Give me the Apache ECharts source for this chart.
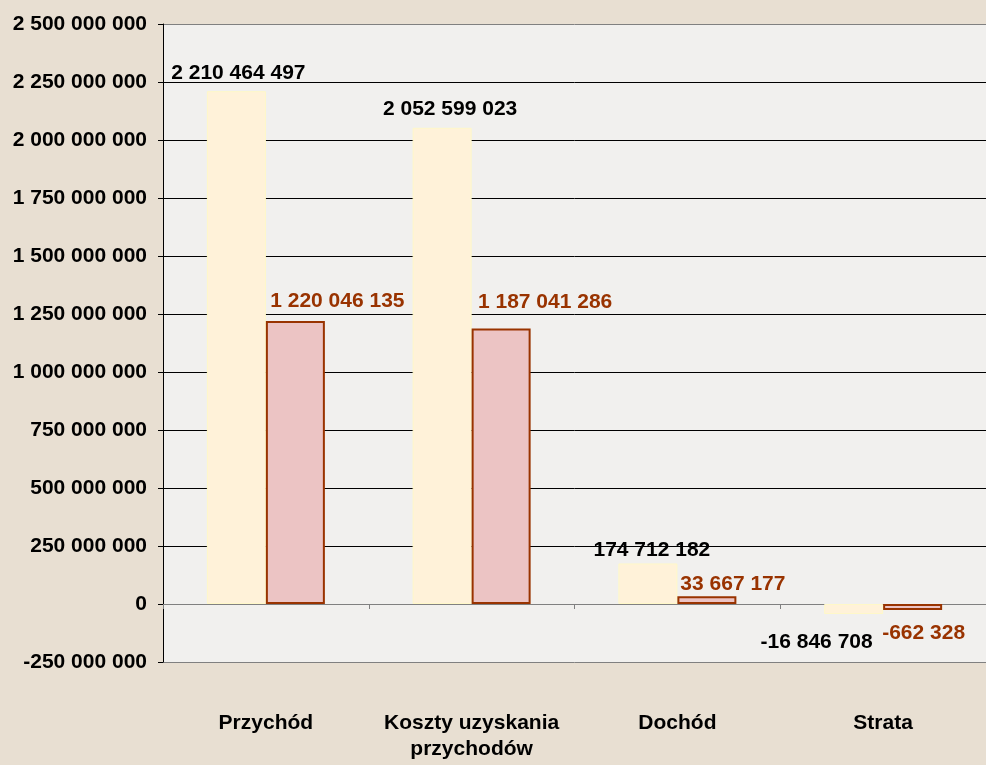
<!DOCTYPE html>
<html>
<head>
<meta charset="utf-8">
<script src="https://cdn.jsdelivr.net/npm/echarts@6/dist/echarts.min.js"></script>
<style>
  html, body { margin: 0; padding: 0; background: #e8dfd2; }
  #chart { width: 986px; height: 765px; }
</style>
</head>
<body>
<div id="chart"></div>
<script>
var categories = ['Przychód', 'Koszty uzyskania\nprzychodów', 'Dochód', 'Strata'];
var series1 = [2210464497, 2052599023, 174712182, -16846708];
var series2 = [1220046135, 1187041286, 33667177, -662328];

// label nudges (px), Excel-style hand placed labels
var offsets1 = [[2, -2], [8, -3], [4, 2], [-37, 13]];
var offsets2 = [[42, -4], [44, -11], [26, 4], [11, 8]];

function fmt(v) {
  var s = String(Math.abs(v)).replace(/\B(?=(\d{3})+(?!\d))/g, ' ');
  return (v < 0 ? '-' : '') + s;
}

function items(values, offs) {
  return values.map(function (v, i) {
    return {
      value: v,
      label: { position: v < 0 ? 'bottom' : 'top', offset: offs[i] }
    };
  });
}

var font = 'Liberation Sans, Arial, sans-serif';
var chart = echarts.init(document.getElementById('chart'));

var option = {
  backgroundColor: '#e8dfd2',
  animation: false,
  grid: {
    left: 163,
    right: -5,
    top: 24,
    bottom: 103,
    show: true,
    backgroundColor: '#f1f0ee',
    borderWidth: 0
  },
  xAxis: [
    {
      type: 'category',
      data: categories,
      axisLine: { onZero: true, lineStyle: { color: '#808080', width: 1 } },
      axisTick: { show: true, length: 5, inside: false, lineStyle: { color: '#808080' } },
      axisLabel: { show: false },
      splitLine: { show: false }
    },
    {
      type: 'category',
      data: categories,
      position: 'bottom',
      axisLine: { show: false, onZero: false },
      axisTick: { show: false },
      axisLabel: {
        interval: 0,
        margin: 48,
        color: '#000',
        fontFamily: font,
        fontWeight: 'bold',
        fontSize: 21,
        lineHeight: 26
      }
    }
  ],
  yAxis: {
    type: 'value',
    min: -250000000,
    max: 2500000000,
    interval: 250000000,
    axisLine: { show: true, lineStyle: { color: '#000', width: 1 } },
    axisTick: { show: true, length: 5, lineStyle: { color: '#000' } },
    axisLabel: {
      margin: 16,
      color: '#000',
      fontFamily: font,
      fontWeight: 'bold',
      fontSize: 21,
      formatter: fmt
    },
    splitLine: {
      show: true,
      lineStyle: {
        width: 1,
        color: ['#808080', '#808080', '#000', '#000', '#000', '#000', '#000',
                '#000', '#000', '#000', '#000', '#808080']
      }
    }
  },
  series: [
    {
      type: 'bar',
      xAxisIndex: 0,
      data: items(series1, offsets1),
      barWidth: 59,
      barGap: '0%',
      barMinHeight: 10,
      itemStyle: { color: '#fff2d9', borderColor: '#fff8c8', borderWidth: 1 },
      label: {
        show: true,
        color: '#000',
        fontFamily: font,
        fontWeight: 'bold',
        fontSize: 21,
        formatter: function (p) { return fmt(p.value); }
      }
    },
    {
      type: 'bar',
      xAxisIndex: 0,
      data: items(series2, offsets2),
      barWidth: 59,
      barGap: '0%',
      barMinHeight: 6,
      itemStyle: { color: '#ecc4c4', borderColor: '#993300', borderWidth: 2 },
      label: {
        show: true,
        color: '#993300',
        fontFamily: font,
        fontWeight: 'bold',
        fontSize: 21,
        formatter: function (p) { return fmt(p.value); }
      }
    }
  ]
};

chart.setOption(option);
window.addEventListener('resize', function () { chart.resize(); });
</script>
</body>
</html>
